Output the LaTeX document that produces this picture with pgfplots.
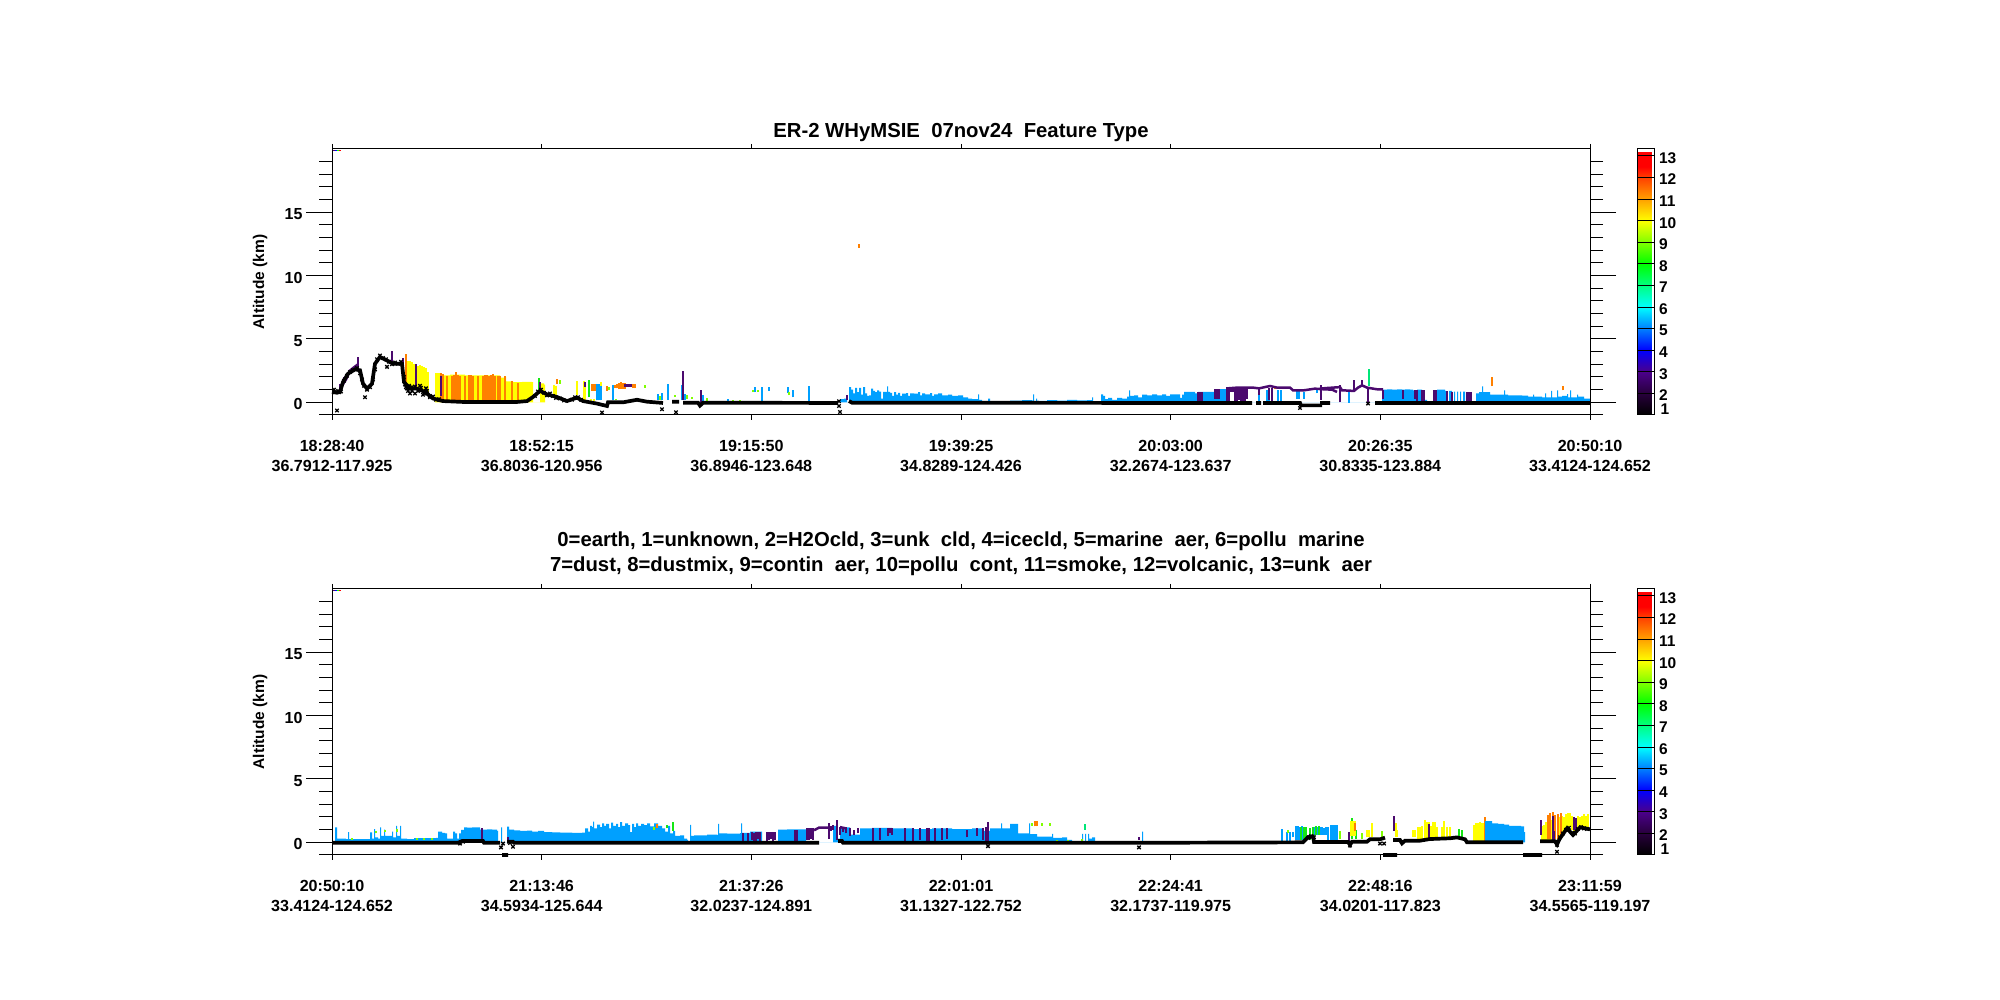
\documentclass[border=0pt]{standalone}
\usepackage{fontspec}
\setmainfont{Liberation Sans}
\usepackage{pgfplots}
\pgfplotsset{compat=1.18}

% feature type colours
\definecolor{cblue}{RGB}{0,160,255}
\definecolor{cpurple}{RGB}{75,10,110}
\definecolor{corange}{RGB}{255,128,0}
\definecolor{cyellow}{RGB}{255,255,0}
\definecolor{clime}{RGB}{128,255,0}
\definecolor{cgreen}{RGB}{20,230,20}
\definecolor{cspring}{RGB}{0,230,120}

\pgfplotsset{
  colormap={feature}{
    rgb255(100)=(0,0,0) rgb255(200)=(40,0,60)
    rgb255(300)=(75,0,140) rgb255(400)=(0,0,255)
    rgb255(500)=(0,128,255) rgb255(600)=(0,255,255)
    rgb255(700)=(0,255,128) rgb255(800)=(0,255,0)
    rgb255(900)=(128,255,0) rgb255(1000)=(255,255,0)
    rgb255(1100)=(255,160,0) rgb255(1200)=(255,64,0)
    rgb255(1250)=(255,0,0) rgb255(1319)=(255,0,0)
    rgb255(1320)=(255,255,255) rgb255(1332)=(255,255,255)
  },
  table/segcols/.style={x index=0,y index=1,y error expr=\thisrowno{2}-\thisrowno{1},header=false},
  seg/.style={draw=none,mark=none,forget plot,
    error bars/.cd,y dir=plus,y explicit,error mark=none,
    error bar style={draw=#1,line width=2pt,solid}},
  area/.style={const plot,fill=#1,draw=none,forget plot},
  band/.style={black,line width=3.7pt,forget plot,unbounded coords=jump},
  purpleline/.style={cpurple,line width=2.5pt,forget plot,unbounded coords=jump},
  outl/.style={only marks,mark=x,mark size=2.4pt,black,line width=1.3pt,forget plot},
  panel/.style={scale only axis,width=1258pt,height=266pt,
    xmin=0,xmax=1258,ymin=-1,ymax=20,clip=false,
    axis line style={line width=1pt},tick style={black,line width=1pt},
    tick align=outside,tick pos=both},
  ypanel/.style={panel,xtick=\empty,
    ytick={0,5,10,15},minor ytick={-1,1,2,3,4,6,7,8,9,11,12,13,14,16,17,18,19},
    major tick length=26pt,minor tick length=13pt,
    yticklabel style={font=\bfseries\fontsize{16}{16}\selectfont,yshift=-2pt,
      /pgf/number format/assume math mode=true},
    ylabel={Altitude (km)},
    every axis y label/.style={at={(axis description cs:0,0.5)},rotate=90,anchor=center,
      yshift=72pt,font=\bfseries\fontsize{15.5}{15.5}\selectfont}},
  xpanel/.style={panel,ytick=\empty,major tick length=5pt,
    xtick={0,209.7,419.3,629,838.7,1048.3,1258},
    xticklabel style={font=\bfseries\fontsize{16.1}{20}\selectfont,align=center,yshift=-16.5pt}},
}

\begin{document}
\begin{tikzpicture}
\path[use as bounding box] (0,0) rectangle (2000pt,1000pt);

% upper panel
\begin{axis}[ypanel,at={(332pt,585pt)},anchor=south west]
\addplot[area=cblue] table[header=false] {
509 .25
512 .3
515 0
517 1.2
519 1.0
521 .7
523 1.15
525 .8
527 1.15
529 .6
531 1.2
533 .7
535 .5
537 .55
539 1.08
541 .9
543 .8
545 .95
547 .85
549 .3
551 .82
555 1.26
556 .82
558 .74
560 .5
562 .8
564 .6
566 .75
568 .5
570 .68
574 .72
576 .5
578 .7
582 .68
586 .8
588 .55
590 .7
593 .63
598 .72
600 .5
602 .63
606 .7
610 .55
616 .6
620 .5
626 .55
631 .4
636 .3
640 .25
646 .63
647 .2
650 .05
656 .3
658 0
678 .14
690 .18
700 .14
701 .63
702 .1
704 .3
705 .12
715 .18
725 .14
735 .2
745 .15
755 .18
760 .39
761 .1
769 .63
771 .5
773 .25
776 .35
780 .2
785 .35
790 .3
795 .45
797 .95
798 .5
802 .55
806 .4
810 .6
815 .55
820 .62
825 .55
830 .62
834 .5
838 .63
846 .63
848 .35
850 .6
852 .82
860 .82
863 .7
866 .82
873 .82
881 .82
883 .9
886 1.05
895 0
1050 1.0
1055 1.03
1060 1.0
1065 1.03
1070 1.0
1073 1.03
1078 1.0
1081 .95
1085 1.0
1090 .95
1092 .2
1095 0
1105 1.0
1113 .9
1114 0
1117 .9
1120 0
1122 .85
1123 0
1125 .85
1126 0
1128 .85
1129 0
1131 .85
1133 0
1144 .7
1147 .8
1150 1.26
1151 .8
1156 .8
1158 .6
1172 .95
1173 .6
1176 .55
1190 .52
1196 .45
1201 .6
1202 .45
1210 .4
1213 .7
1214 .4
1219 .9
1220 .4
1225 .95
1226 .45
1230 .5
1235 .65
1236 .4
1238 .95
1239 .4
1245 .6
1246 .45
1252 .3
1258 0
} \closedcycle;
\addplot[area=cyellow] table[header=false] {
103 2.3
109 2.13
118 2.18
133 2.13
166 2.13
168 1.95
172 2.0
174 1.65
181 1.6
190 1.62
200 1.6
201 0
208 1.5
212 1.4
213 0
} \closedcycle;
\addplot[seg=cyellow] table[segcols] {
74 1.6 3.4
76 1.4 3.3
78 1.2 3.3
80 1.2 3.2
82 1.2 3.0
84 1.1 3.0
86 1.1 2.9
88 1.0 2.95
90 1.0 2.9
92 .9 2.8
94 .8 2.7
96 .6 2.4
222 .4 1.4
224 .4 1.3
245 .6 1.7
252 .2 1.7
253 .2 1.5
259 .1 .3
262 .1 .3
269 1.0 1.6
};
\addplot[seg=corange] table[segcols] {
74 1.5 3.8
109 .1 2.3
111 .1 2.2
115 .1 2.1
120 .05 2.1
122 .05 2.15
124 .05 2.4
126 .05 2.15
128 .05 2.1
133 .05 2.1
137 .05 2.15
139 .05 2.15
141 .05 2.1
146 .05 2.1
151 .05 2.1
153 .05 2.15
155 .05 2.15
157 .05 2.1
159 .05 2.15
161 .05 2.2
163 .05 2.1
166 .05 2.1
168 .05 2.1
173 .05 2.1
180 .05 1.66
186 .05 1.5
225 1.45 1.85
260 .9 1.45
262 .9 1.45
264 .9 1.45
269 1.0 1.3
275 .9 1.3
283 1.1 1.4
285 1.1 1.45
287 1.05 1.5
289 1.05 1.6
291 1.05 1.55
293 1.05 1.5
301 1.1 1.45
303 1.1 1.45
527 12.2 12.5
943 1.05 1.2
1160 1.26 1.99
1231 .95 1.26
};
\addplot[seg=cblue] table[segcols] {
265 .15 1.45
267 .15 1.45
269 .15 1.3
281 .15 1.35
326 .2 .68
330 .15 .74
336 .2 1.42
350 .15 1.35
353 .2 .68
371 .1 .55
396 .1 .28
423 .8 1.2
430 .05 1.2
437 .9 1.2
456 .75 1.2
461 .4 1.0
477 .05 1.26
509 .05 .3
512 .05 .3
927 .1 .9
935 .05 1.0
937 .05 1.0
940 .05 1.0
946 .1 .95
949 .1 .95
965 .3 1.0
967 .3 1.0
972 .3 .8
985 .7 .95
1017 -.05 .8
};
\addplot[seg=clime] table[segcols] {
228 1.45 1.75
277 .95 1.2
284 .15 .3
313 1.15 1.35
328 .2 .5
343 .42 .6
355 .3 .55
360 .3 .45
375 .1 .35
401 .1 .2
408 .05 .15
421 .8 1.0
426 .8 .95
457 .55 .8
}; 
\addplot[seg=cgreen] table[segcols] {
207 1.0 1.9
257 .4 1.75
};
\addplot[seg=cspring] table[segcols] {
1037 1.3 2.65
};
\addplot[purpleline] table[header=false] {
9 1.2
14 1.8
18 2.5
21 2.7
26 3.0
nan nan
895 1.1
905 1.16
921 1.16
927 1.1
938 1.29
945 1.16
958 1.16
961 .95
972 .95
983 1.08
991 1.03
1000 1.0
1005 .82
nan nan
988 1.08
995 1.13
1008 1.2
1010 .95
1022 .9
1026 1.16
1030 1.34
1035 1.16
1045 1.03
1051 1.03
};
\addplot[seg=cpurple] table[segcols] {
8 .9 1.45
12 1.6 2.0
26 2.7 3.55
42 2.3 2.7
60 3.2 4.03
71 1.7 3.5
84 1.0 3.05
109 .5 2.1
208 1.0 1.6
253 1.2 1.6
293 1.2 1.45
295 1.2 1.45
297 1.2 1.45
299 1.2 1.45
351 .2 2.5
369 -.1 .95
515 .15 .55
866 0 .82
868 0 .82
870 0 .82
883 .3 1.05
885 .3 1.05
887 .3 1.05
895 0 1.2
897 0 1.2
899 .8 1.2
901 .8 1.2
903 0 1.2
905 0 1.2
907 .2 1.2
909 0 1.2
911 0 1.2
913 0 1.2
915 .3 1.2
927 .6 1.1
937 .2 1.1
940 .1 1.1
989 .2 1.4
1008 0 1.35
1022 .95 1.8
1030 1.2 1.8
1036 -.1 1.2
1051 .3 1.0
1071 .3 .95
1083 .3 .98
1085 .1 .95
1090 0 1.0
1092 0 1.0
1102 0 1.0
1104 0 1.0
1115 0 .9
1120 0 .85
1135 0 .85
1137 0 .85
1139 0 .85
};
\addplot[band] table[header=false] {
0 .82
5 .76
8 .82
11 1.6
16 2.26
23 2.6
28 2.53
31 1.47
35 1.08
40 1.47
43 3.05
48 3.58
55 3.3
61 3.05
70 3.05
72 1.6
78 1.08
85 1.08
93 .82
101 .3
111 .1
131 .03
185 .03
195 .1
201 .42
208 .9
215 .63
225 .42
235 .1
245 .37
251 .1
265 -.1
275 -.29
276 0
291 0
305 .2
315 .05
331 -.05
nan nan
340 .05
347 .05
nan nan
351 -.03
366 -.03
368 -.26
371 -.03
506 -.05
nan nan
517 .1
520 -.03
838 -.05
920 -.05
nan nan
924 -.05
929 -.05
nan nan
931 -.05
968 -.05
969 -.24
990 -.24
nan nan
988 -.05
998 -.05
nan nan
1043 -.05
1258 -.05
};
\addplot[outl] table[header=false] {
5 -.65
33 .4
55 2.8
2 1.0
7 .8
74 1.2
76 .9
78 .7
80 1.2
83 .7
88 1.3
91 .6
94 1.1
98 .4
270 -.8
330 -.55
344 -.78
507 .08
507 -.29
508 -.76
968 -.45
1036 -.1
3 .8
6 .9
9 .85
12 1.7
15 2.1
18 2.4
21 2.55
25 2.7
28 2.3
30 1.8
32 1.3
35 1.0
38 1.2
41 1.8
43 2.6
45 3.4
48 3.7
51 3.5
54 3.4
57 3.2
60 3.0
63 3.15
66 3.05
69 3.2
72 2.0
73 1.4
75 1.1
77 1.3
80 .9
83 1.25
86 .9
89 1.15
92 .7
95 .9
98 .5
101 .45
104 .2
107 .25
203 .5
206 .85
209 1.0
212 .75
215 .55
218 .7
221 .5
224 .35
228 .3
232 .15
240 .2
243 .4
246 .4
249 .2
};
\addplot[cpurple,line width=1pt,forget plot] coordinates {(1,19.9)(3,19.9)};
\addplot[blue,line width=1pt,forget plot] coordinates {(3,19.9)(5,19.9)};
\addplot[green,line width=1pt,forget plot] coordinates {(5,19.9)(7,19.9)};
\addplot[red,line width=1pt,forget plot] coordinates {(7,19.9)(9,19.9)};
\end{axis}
\begin{axis}[xpanel,at={(332pt,585pt)},anchor=south west,
  xticklabels={{18:28:40\\36.7912-117.925},{18:52:15\\36.8036-120.956},{19:15:50\\36.8946-123.648},{19:39:25\\34.8289-124.426},{20:03:00\\32.2674-123.637},{20:26:35\\30.8335-123.884},{20:50:10\\33.4124-124.652}}]
\addplot[draw=none,forget plot] coordinates {(0,0)};
\end{axis}

% lower panel
\begin{axis}[ypanel,at={(332pt,145pt)},anchor=south west]
\addplot[area=cblue] table[header=false] {
3 1.18
5 .3
12 .3
14 .25
16 .8
17 .25
38 .79
40 .3
42 1.05
43 .4
46 .3
48 1.18
49 .5
52 1.0
53 .5
58 .5
60 .84
61 .4
64 1.29
65 .5
68 1.29
69 .3
75 .25
82 .33
104 .35
106 .84
108 .84
110 .75
113 .7
115 .3
121 .84
123 .7
125 .3
127 .7
129 .98
132 1.18
135 1.16
140 1.18
146 1.18
148 1.0
155 1.03
160 1.0
165 .9
166 0
169 1.18
170 0
175 1.24
177 1.0
182 .95
188 .9
195 .92
200 .85
206 .9
212 .8
220 .78
228 .76
240 .74
250 .76
253 1.1
256 .85
258 1.3
260 1.2
261 1.63
262 1.1
265 1.4
268 1.2
270 1.5
272 1.3
274 1.45
277 1.1
279 1.55
281 1.3
284 1.45
286 1.2
288 1.6
290 1.3
293 1.5
296 1.35
298 .8
300 1.45
302 1.2
304 1.5
306 1.3
309 1.45
312 1.35
315 1.5
318 1.25
322 1.5
326 1.3
330 1.1
333 .85
336 1.3
338 .7
341 .9
343 .5
348 .55
352 .3
355 .2
356 0
358 1.37
359 .5
362 .55
375 .6
385 .58
386 1.45
387 .7
395 .68
408 .72
409 1.5
410 .75
418 .84
429 .84
430 .1
446 1.0
454 1.0
455 1.03
473 1.03
474 0
501 1.3
505 .3
508 1.18
518 .6
528 1.1
540 1.15
560 1.1
580 1.05
600 1.1
620 1.05
640 1.1
651 .9
658 1.1
668 1.1
669 1.5
670 1.1
678 1.45
686 .7
697 1.5
698 .65
705 .45
718 .45
720 .66
721 .35
730 .4
735 .2
740 .1
750 .66
751 .1
753 .66
754 .1
756 .66
757 .3
760 .4
763 0
810 .84
811 0
} \closedcycle;
\addplot[seg=cblue] table[segcols] {
950 .1 1.03
955 .1 .85
958 .1 .85
961 .4 .85
964 .2 1.29
966 .2 1.29
968 .2 1.18
970 .2 1.29
983 .6 1.18
985 .6 1.18
988 .6 1.2
990 .6 1.2
992 .6 1.1
994 .6 1.2
996 .1 1.2
999 .1 1.37
1001 .2 1.37
1003 .1 1.37
1005 .2 1.37
};
\addplot[seg=clime] table[segcols] {
20 .2 .35
44 .7 .9
53 .8 .95
65 .85 1.05
85 .2 .35
92 .2 .35
100 .2 .35
322 1.0 1.18
700 1.3 1.5
705 1.3 1.45
710 1.3 1.5
718 1.3 1.5
725 .1 .2
736 .05 .15
750 .1 .25
956 .7 .97
1008 .25 .9
1030 .25 .75
1050 .3 .9
};
\addplot[seg=cgreen] table[segcols] {
341 .92 1.63
335 1.1 1.37
969 .2 1.18
972 .2 1.18
974 .2 1.18
978 .2 1.1
981 .2 1.2
984 .6 1.3
987 .6 1.3
1020 1.6 1.9
1020 .25 1.0
1024 .25 1.0
1127 .35 1.05
1130 .35 .95
};
\addplot[seg=cspring] table[segcols] {
753 1.0 1.45
};
\addplot[seg=corange] table[segcols] {
325 1.1 1.45
703 1.25 1.7
705 1.25 1.7
};
\addplot[seg=cyellow] table[segcols] {
1019 .5 1.7
1021 .5 1.7
1023 .5 1.7
1035 .4 1.0
1037 .4 1.0
1040 .4 1.55
1064 .4 1.5
1065 .4 1.0
1081 .4 1.0
1083 .4 .95
1086 .3 1.2
1088 .3 1.2
1090 .3 1.3
1093 .3 1.8
1095 .3 1.6
1097 .3 1.6
1099 .3 1.3
1101 .3 1.6
1103 .3 1.6
1105 .3 1.2
1110 .3 1.2
1112 .3 1.7
1115 .3 1.2
1118 .3 1.2
1142 .05 1.4
1144 .05 1.5
1146 .05 1.5
1148 .05 1.6
1150 .05 1.55
1152 .05 1.5
1154 .05 1.5
1156 .05 1.45
1159 .05 1.5
1210 .2 1.3
1212 .2 1.4
1214 .2 1.6
1216 .2 1.7
1218 .2 1.75
1220 .2 1.75
1222 .2 1.8
1228 .4 2.0
1230 .4 2.1
1232 .6 2.0
1234 .8 2.2
1236 1.0 2.3
1238 1.2 2.3
1240 1.0 2.1
1242 .8 1.9
1244 .6 1.8
1246 1.1 2.1
1248 1.2 2.0
1250 1.2 2.1
1252 1.2 2.2
1254 1.1 2.1
1256 1.1 2.25
};
\addplot[seg=corange] table[segcols] {
1023 .9 1.5
1153 .05 2.0
1216 .3 2.15
1218 .3 2.35
1221 .3 2.4
1223 .3 2.15
1226 .3 2.2
1229 .3 2.3
};
\addplot[seg=cblue] table[segcols] {
1154 .05 1.7
};
\addplot[area=cblue] table[header=false] {
1155 1.68
1160 1.5
1166 1.45
1172 1.4
1177 1.3
1183 1.3
1189 1.25
1192 .8
1193 0
} \closedcycle;
\addplot[purpleline] table[header=false] {
482 .95
487 1.16
497 1.16
500 1.1
nan nan
508 1.2
514 1.1
} ;
\addplot[seg=cpurple] table[segcols] {
150 .1 1.1
176 .1 .45
411 .1 .76
416 .1 .76
420 .2 .84
422 .1 .7
424 .1 .84
426 .3 .8
428 .1 .84
435 .1 .84
437 .2 .84
439 .3 .8
441 .1 .84
443 .2 .84
463 .1 1.0
465 .1 1.0
475 .2 1.1
477 .2 1.1
479 .3 1.16
481 .2 1.1
497 .3 1.5
499 .9 1.3
501 1.0 1.4
505 .2 1.76
508 .6 1.2
511 .8 1.2
514 .7 1.2
518 .5 1.1
522 .6 1.0
526 .7 1.1
541 .1 1.1
548 .2 1.1
556 .5 1.1
558 .7 1.1
560 .6 1.1
573 .1 1.1
581 .1 1.1
588 .2 1.1
595 .1 1.1
597 .1 1.1
603 .1 1.1
610 .2 1.1
615 .3 1.1
635 .4 1.0
645 .5 1.1
651 .2 1.1
654 0 1.2
656 0 1.6
807 .2 .45
976 .3 .6
1017 -.1 .8
1062 .9 2.1
1097 .3 1.45
1209 .6 1.75
1221 .1 2.1
1222 .1 .9
1242 .95 2.0
1244 .95 1.95
};
\addplot[band] table[header=false] {
0 -.03
126 -.03
130 .1
151 .1
152 -.03
168 -.03
nan nan
170 -1
176 -1
nan nan
175 .05
181 .05
182 -.03
487 -.03
nan nan
506 .1
510 .1
511 -.03
838 -.03
971 0
976 .4
981 .45
982 .03
1016 .03
1018 -.2
1020 .05
1035 .05
1038 .24
1048 .24
1053 .37
nan nan
1061 .18
1068 .18
1070 -.08
1073 .13
1088 .13
1098 .26
1118 .32
1125 .39
1133 .24
1135 .0
1191 0
nan nan
1051 -1
1065 -1
nan nan
1191 -1
1210 -1
nan nan
1208 .08
1223 .08
1225 -.16
1228 .32
1235 1.1
1241 .58
1248 1.18
1258 1.03
};
\addplot[outl] table[header=false] {
128 -.1
131 .05
169 -.4
171 -.1
181 -.35
178 -.05
656 -.3
807 -.4
1018 -.25
1048 -.1
1052 -.1
1225 -.74
1225 -.2
976 .35
979 .5
982 .4
1228 .4
1231 .7
1234 1.0
1237 1.15
1240 .75
1243 .7
1246 1.05
1249 1.2
1252 1.1
1255 1.05
};
\addplot[cpurple,line width=1pt,forget plot] coordinates {(1,19.9)(3,19.9)};
\addplot[blue,line width=1pt,forget plot] coordinates {(3,19.9)(5,19.9)};
\addplot[green,line width=1pt,forget plot] coordinates {(5,19.9)(7,19.9)};
\addplot[red,line width=1pt,forget plot] coordinates {(7,19.9)(9,19.9)};
\end{axis}
\begin{axis}[xpanel,at={(332pt,145pt)},anchor=south west,
  xticklabels={{20:50:10\\33.4124-124.652},{21:13:46\\34.5934-125.644},{21:37:26\\32.0237-124.891},{22:01:01\\31.1327-122.752},{22:24:41\\32.1737-119.975},{22:48:16\\34.0201-117.823},{23:11:59\\34.5565-119.197}}]
\addplot[draw=none,forget plot] coordinates {(0,0)};
\end{axis}

% colour bars
\foreach \yb/\yone in {585/591,145/151}{
\begin{scope}[shift={(1629pt,\yb pt)}]
\pgfplotscolorbardrawstandalone[colormap name=feature,point meta min=1,point meta max=13.32,
  colorbar style={at={(0pt,0pt)},anchor=south west,scale only axis,width=17pt,height=266pt,
    ytick={2,3,...,13},ytick pos=right,yticklabel pos=right,tick align=inside,
    major tick length=17pt,tick style={black,line width=1pt},axis line style={line width=1pt},
    yticklabel style={font=\bfseries\fontsize{15.5}{15.5}\selectfont,yshift=-2pt,xshift=1pt,
      /pgf/number format/assume math mode=true}}]
\end{scope}
\node[anchor=west,inner sep=0pt,font=\bfseries\fontsize{15.5}{15.5}\selectfont] at (1660.5pt,\yone pt) {1};
}

% title and key
\node[font=\bfseries\fontsize{20.3}{20.3}\selectfont] at (961pt,867pt) {ER-2 WHyMSIE\ \ 07nov24\ \ Feature Type};
\node[font=\bfseries\fontsize{20.3}{20.3}\selectfont] at (961pt,459pt) {0=earth, 1=unknown, 2=H2Ocld, 3=unk\ \ cld, 4=icecld, 5=marine\ \ aer, 6=pollu\ \ marine};
\node[font=\bfseries\fontsize{20.3}{20.3}\selectfont] at (961pt,434pt) {7=dust, 8=dustmix, 9=contin\ \ aer, 10=pollu\ \ cont, 11=smoke, 12=volcanic, 13=unk\ \ aer};
\end{tikzpicture}
\end{document}
